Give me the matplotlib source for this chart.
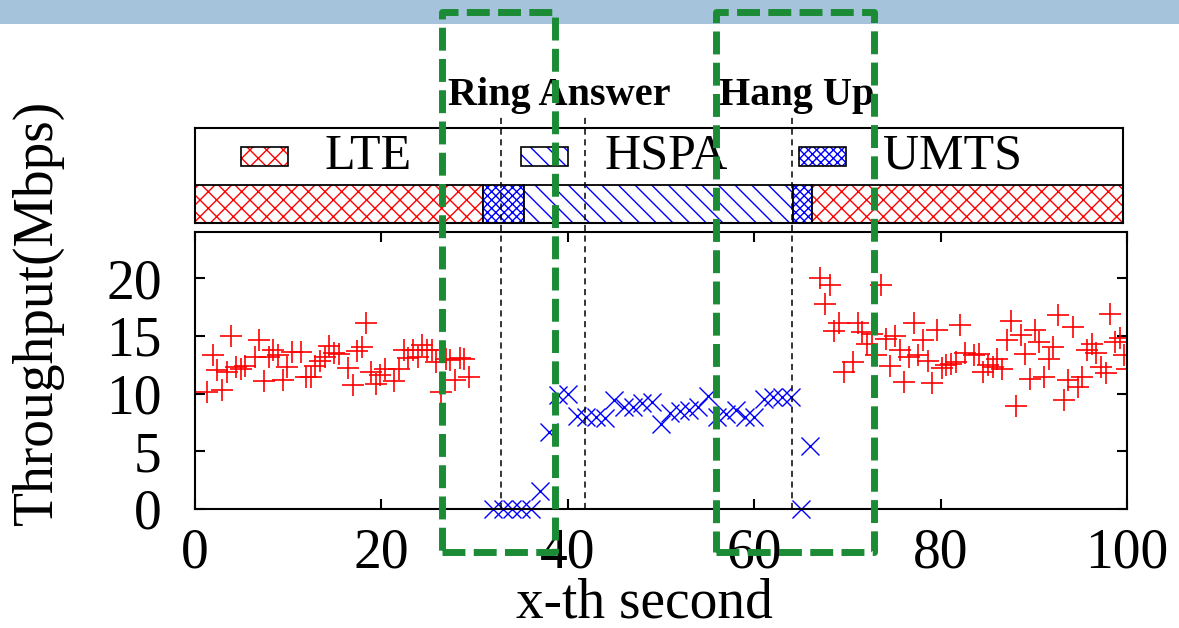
import matplotlib
matplotlib.use("Agg")
import matplotlib.pyplot as plt
from matplotlib import patches, lines, transforms

plt.rcParams['font.family'] = ['Liberation Serif', 'DejaVu Serif']
plt.rcParams['hatch.linewidth'] = 1.0

# LTE throughput before the call
lte_before_t = [1.3, 1.9, 2.4, 2.9, 3.4, 3.9, 4.4, 4.9, 5.4, 6.4, 6.9, 7.4, 7.9, 8.4,
                8.9, 9.4, 9.9, 10.4, 11.4, 11.9, 12.4, 12.9, 13.4, 13.9, 14.4, 14.9,
                15.4, 16.4, 16.9, 17.4, 17.9, 18.4, 18.9, 19.4, 19.9, 20.4, 21.4, 21.9,
                22.4, 22.9, 23.4, 23.9, 24.4, 24.9, 25.4, 25.9, 26.4, 26.9, 27.4, 27.9,
                28.4, 28.9, 29.4]
lte_before_y = [10.1, 13.3, 12.0, 10.3, 11.9, 15.0, 12.3, 12.1, 12.4, 13.2, 14.6, 11.1,
                13.2, 13.8, 13.3, 11.2, 12.3, 13.6, 13.6, 11.4, 11.4, 12.4, 12.8, 13.2,
                14.1, 13.5, 13.4, 12.2, 10.7, 13.7, 14.0, 16.1, 11.9, 10.8, 11.6, 12.1,
                11.1, 12.1, 13.8, 13.1, 13.8, 13.2, 14.2, 13.8, 13.8, 12.7, 10.1, 13.0,
                12.9, 11.2, 13.1, 13.0, 11.4]

# 3G throughput during the call
g3_t = [32, 33, 34, 35, 36, 37, 38, 39, 40, 41, 42, 43, 44, 45, 46, 47, 48, 49,
        50, 51, 52, 53, 54, 55, 56, 57, 58, 59, 60, 61, 62, 63, 64, 65, 66]
g3_y = [0, 0, 0, 0, 0, 1.6, 6.7, 9.9, 10.0, 8.1, 8.0, 8.0, 7.9, 9.4, 8.8, 8.8, 9.2,
        9.3, 7.4, 8.3, 8.5, 8.6, 8.8, 9.8, 8.0, 8.2, 8.6, 8.0, 8.0, 9.5, 9.7, 9.7,
        9.7, 0, 5.5]

# LTE throughput after hanging up
lte_after_t = [67.1, 67.6, 68.1, 68.6, 69.1, 69.6, 70.6, 71.1, 71.6, 72.1, 72.6, 73.1,
               73.6, 74.1, 74.6, 75.1, 75.6, 76.1, 76.6, 77.1, 77.6, 78.1, 78.6, 79.1,
               79.6, 80.1, 80.6, 81.1, 81.6, 82.1, 82.6, 83.6, 84.1, 84.6, 85.1, 85.6,
               86.1, 86.6, 87.1, 87.6, 88.1, 88.6, 89.1, 89.6, 90.1, 90.6, 91.1, 91.6,
               92.1, 92.6, 93.2, 93.7, 94.2, 94.7, 95.2, 95.7, 96.2, 96.7, 97.2, 97.7,
               98.2, 98.7, 99.2, 99.7, 100.0]
lte_after_y = [20.0, 17.8, 19.4, 15.4, 16.1, 11.9, 12.7, 16.1, 15.3, 14.3, 15.2, 13.3,
               19.4, 14.7, 12.4, 15.0, 13.8, 11.0, 13.2, 16.1, 13.3, 14.6, 12.8, 10.9,
               15.5, 12.2, 12.5, 12.6, 12.7, 15.9, 13.5, 13.3, 13.4, 11.9, 12.5, 12.3,
               13.0, 12.1, 14.6, 16.3, 8.9, 15.1, 13.4, 11.3, 15.5, 14.5, 11.4, 13.0,
               14.0, 16.8, 9.4, 11.2, 15.8, 10.6, 11.4, 13.8, 14.3, 13.5, 12.3, 11.8,
               16.9, 14.5, 14.8, 13.3, 12.1]

# network type timeline
net_names = ["LTE", "UMTS", "HSPA", "UMTS", "LTE"]
net_start = [0, 31, 35.5, 64.4, 66.5]
net_end = [31, 35.5, 64.4, 66.5, 100]

# call events
event_t = [32.8, 41.8, 64.1]
event_labels = ["Ring Answer", "Hang Up"]
event_label_t = [39.1, 64.6]

# highlighted time windows
window_start = [26.5, 55.9]
window_end = [38.6, 72.9]

net_style = {
    "LTE": ("red", "xx"),
    "HSPA": ("blue", "\\\\"),
    "UMTS": ("blue", "xxxx"),
}
key_names = ["LTE", "HSPA", "UMTS"]
key_left = [5.0, 35.1, 65.1]

fig = plt.figure(figsize=(11.79, 6.28), dpi=100)

# band across the top
fig.add_artist(patches.Rectangle((0, 1 - 24 / 628), 1, 24 / 628,
                                 transform=fig.transFigure,
                                 facecolor='#a5c3db', edgecolor='none', zorder=0))

ax = fig.add_axes([0.1654, 0.1895, 0.7905, 0.4411])
ax_bar = fig.add_axes([0.1654, 0.6449, 0.7871, 0.1513])

# throughput scatter
ax.plot(lte_before_t, lte_before_y, linestyle='none', marker='+', color='red',
        markersize=16, markeredgewidth=1.2)
ax.plot(lte_after_t, lte_after_y, linestyle='none', marker='+', color='red',
        markersize=16, markeredgewidth=1.2)
ax.plot(g3_t, g3_y, linestyle='none', marker='x', color='blue',
        markersize=13, markeredgewidth=1.0, clip_on=False)

ax.set_xlim(0, 100)
ax.set_ylim(0, 24)
ax.set_xticks([0, 20, 40, 60, 80, 100])
ax.set_yticks([0, 5, 10, 15, 20])
ax.tick_params(axis='both', direction='in', length=7.5, width=1.5,
               top=True, right=True, labelsize=40)
ax.tick_params(axis='y', pad=24)
ax.tick_params(axis='x', pad=13)
for s in ax.spines.values():
    s.set_linewidth(1.5)

fig.text(38 / 1179, 1 - 312 / 628, "Throughput(Mbps)", rotation=90,
         ha='center', va='center', fontsize=40)
fig.text(644 / 1179, 1 - 604 / 628, "x-th second",
         ha='center', va='center', fontsize=40)

# network type bar
for name, start, end in zip(net_names, net_start, net_end):
    color, hatch = net_style[name]
    ax_bar.barh(0.2, end - start, left=start, height=0.4, facecolor='white',
                edgecolor=color, hatch=hatch, linewidth=0)
    ax_bar.barh(0.2, end - start, left=start, height=0.4, facecolor='none',
                edgecolor='black', linewidth=1.3)

# key row above the bar, fixed-width columns
for name, left in zip(key_names, key_left):
    color, hatch = net_style[name]
    ax_bar.add_patch(patches.Rectangle((left, 0.6), 5.06, 0.2, facecolor='white',
                                       edgecolor=color, hatch=hatch, linewidth=0))
    ax_bar.add_patch(patches.Rectangle((left, 0.6), 5.06, 0.2, facecolor='none',
                                       edgecolor='black', linewidth=1.2))
    ax_bar.text(left + 9.0, 0.70, name, ha='left', va='center', fontsize=36)

ax_bar.set_xlim(0, 100)
ax_bar.set_ylim(0, 1)
ax_bar.set_xticks([])
ax_bar.set_yticks([])
for s in ax_bar.spines.values():
    s.set_linewidth(1.5)

# event markers spanning both panels
blend = transforms.blended_transform_factory(ax.transData, fig.transFigure)
for t in event_t:
    fig.add_artist(lines.Line2D([t, t], [0.1895, 0.8137], transform=blend,
                                color='black', linewidth=1.1,
                                linestyle=(0, (4, 3)), zorder=5))
for label, t in zip(event_labels, event_label_t):
    fig.text(t, 1 - 95 / 628, label, transform=blend, ha='center', va='center',
             fontsize=29, fontweight='bold')

# highlighted windows
for start, end in zip(window_start, window_end):
    fig.add_artist(patches.Rectangle((start, 1 - 552 / 628), end - start, 540 / 628,
                                     transform=blend, fill=False,
                                     edgecolor='#1b8c35', linewidth=5,
                                     linestyle=(0, (3.3, 1.2)), joinstyle='round',
                                     zorder=10))

fig.savefig("out.png", dpi=100)
